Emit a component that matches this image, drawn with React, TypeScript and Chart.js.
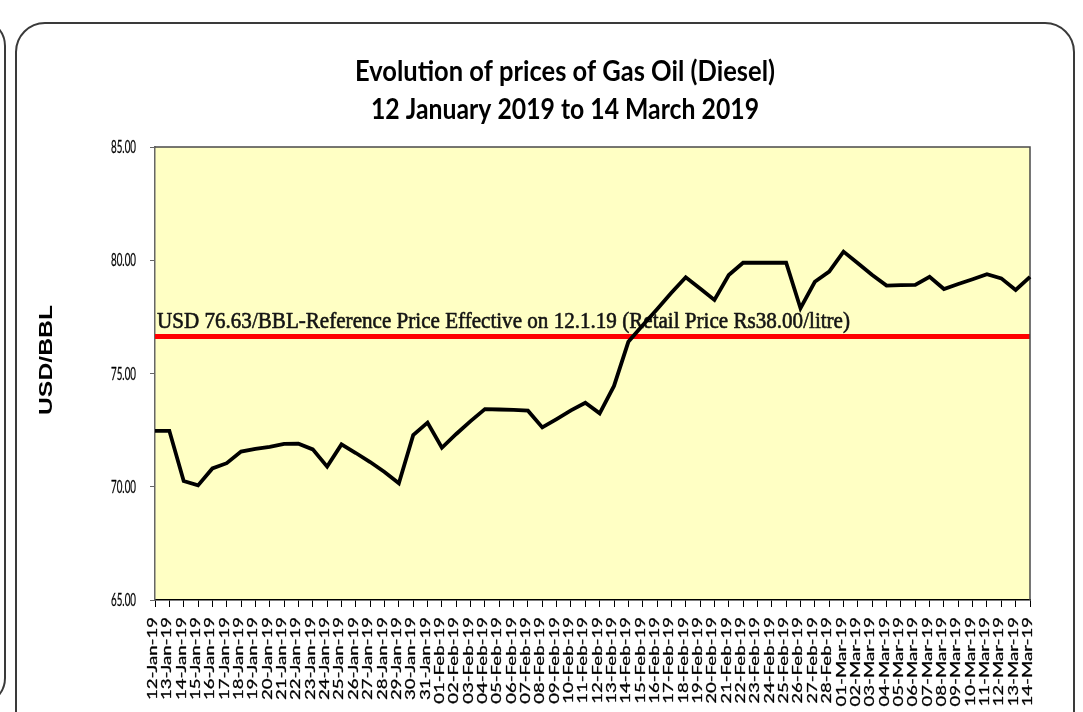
import { useEffect, useRef } from "react";
import { Chart, registerables } from "chart.js";

Chart.register(...registerables);

const DATES = [
  "12-Jan-19", "13-Jan-19", "14-Jan-19", "15-Jan-19", "16-Jan-19", "17-Jan-19", "18-Jan-19",
  "19-Jan-19", "20-Jan-19", "21-Jan-19", "22-Jan-19", "23-Jan-19", "24-Jan-19", "25-Jan-19",
  "26-Jan-19", "27-Jan-19", "28-Jan-19", "29-Jan-19", "30-Jan-19", "31-Jan-19",
  "01-Feb-19", "02-Feb-19", "03-Feb-19", "04-Feb-19", "05-Feb-19", "06-Feb-19", "07-Feb-19",
  "08-Feb-19", "09-Feb-19", "10-Feb-19", "11-Feb-19", "12-Feb-19", "13-Feb-19", "14-Feb-19",
  "15-Feb-19", "16-Feb-19", "17-Feb-19", "18-Feb-19", "19-Feb-19", "20-Feb-19", "21-Feb-19",
  "22-Feb-19", "23-Feb-19", "24-Feb-19", "25-Feb-19", "26-Feb-19", "27-Feb-19", "28-Feb-19",
  "01-Mar-19", "02-Mar-19", "03-Mar-19", "04-Mar-19", "05-Mar-19", "06-Mar-19", "07-Mar-19",
  "08-Mar-19", "09-Mar-19", "10-Mar-19", "11-Mar-19", "12-Mar-19", "13-Mar-19", "14-Mar-19",
];

const PRICES = [
  72.47, 72.47, 70.25, 70.06, 70.81, 71.04, 71.55, 71.67, 71.76, 71.89,
  71.9, 71.65, 70.89, 71.87, 71.49, 71.09, 70.65, 70.15, 72.28, 72.83,
  71.72, 72.33, 72.9, 73.43, 73.41, 73.39, 73.36, 72.62, 72.99, 73.37,
  73.71, 73.24, 74.45, 76.4, 77.13, 77.84, 78.56, 79.25, 78.75, 78.25,
  79.35, 79.89, 79.89, 79.89, 79.89, 77.88, 79.05, 79.5, 80.38, 79.87,
  79.35, 78.88, 78.9, 78.91, 79.27, 78.73, 78.95, 79.16, 79.38, 79.2,
  78.69, 79.27,
];

const Y_MIN = 65;
const Y_MAX = 85;
const Y_STEP = 5;
const REF_PRICE = 76.63;
const REF_LABEL =
  "USD 76.63/BBL-Reference Price Effective on 12.1.19 (Retail Price Rs38.00/litre)";
const TITLE_LINES = ["Evolution of prices of Gas Oil (Diesel)", "12 January 2019 to 14 March 2019"];
const Y_TITLE = "USD/BBL";

const PLOT_BG = "#FFFFC4";

function drawFitted(
  ctx: CanvasRenderingContext2D,
  text: string,
  x: number,
  y: number,
  font: string,
  fontPx: number,
  width: number | null,
  capH: number,
  align: CanvasTextAlign,
  capRatio: number,
  rotate = 0,
  color = "#000",
  sxFixed: number | null = null,
  strokeW = 0
) {
  ctx.save();
  ctx.font = font;
  const w = ctx.measureText(text).width;
  const sx = sxFixed != null ? sxFixed : width ? width / w : 1;
  const sy = capH / (capRatio * fontPx);
  ctx.translate(x, y);
  if (rotate) ctx.rotate(rotate);
  ctx.scale(sx, sy);
  ctx.textAlign = align;
  ctx.textBaseline = "alphabetic";
  ctx.fillStyle = color;
  ctx.fillText(text, 0, 0);
  if (strokeW > 0) {
    ctx.strokeStyle = color;
    ctx.lineWidth = strokeW;
    ctx.lineJoin = "round";
    ctx.strokeText(text, 0, 0);
  }
  ctx.restore();
}

const decorPlugin = {
  id: "decor",
  beforeDraw(chart: any) {
    const { ctx, chartArea } = chart;
    ctx.save();
    ctx.fillStyle = PLOT_BG;
    ctx.fillRect(chartArea.left, chartArea.top, chartArea.right - chartArea.left, chartArea.bottom - chartArea.top);
    ctx.restore();
  },
  beforeDatasetsDraw(chart: any) {
    const { ctx, chartArea, scales } = chart;
    const y = scales.y.getPixelForValue(REF_PRICE);
    ctx.save();
    ctx.strokeStyle = "#FF0000";
    ctx.lineWidth = 5;
    ctx.beginPath();
    ctx.moveTo(chartArea.left, y);
    ctx.lineTo(chartArea.right, y);
    ctx.stroke();
    ctx.restore();
    drawFitted(ctx, REF_LABEL, chartArea.left + 2, y - 9, "17px 'Liberation Serif'", 17, 693, 15.5, "left", 0.662, 0, "#141414", null, 0.45);
    ctx.save();
    ctx.strokeStyle = "#4a4a4a";
    ctx.lineWidth = 1.5;
    ctx.beginPath();
    ctx.moveTo(chartArea.left, chartArea.top);
    ctx.lineTo(chartArea.right, chartArea.top);
    ctx.lineTo(chartArea.right, chartArea.bottom);
    ctx.stroke();
    ctx.restore();
  },
  afterDraw(chart: any) {
    const { ctx, chartArea, scales } = chart;
    drawFitted(ctx, TITLE_LINES[0], 565, 81, "bold 22px Lato", 22, 420, 20, "center", 0.72);
    drawFitted(ctx, TITLE_LINES[1], 565, 119, "bold 22px Lato", 22, 388, 20, "center", 0.72);
    drawFitted(ctx, Y_TITLE, 52, 360, "bold 16px 'Liberation Sans'", 16, 110, 13, "center", 0.716, -Math.PI / 2);
    const ys = scales.y;
    ys.ticks.forEach((t: any) => {
      const py = ys.getPixelForValue(t.value);
      drawFitted(ctx, t.value.toFixed(2), 136, py + 6, "13px Lato", 13, 25, 12, "right", 0.72, 0, "#000", null, 0.2);
    });
    const xs = scales.x;
    ctx.save();
    ctx.font = "12px Lato";
    const sxLab = 83 / ctx.measureText(DATES[0]).width;
    ctx.restore();
    DATES.forEach((lab, i) => {
      const px = xs.getPixelForTick(i);
      drawFitted(ctx, lab, px + 2, chartArea.bottom + 17, "12px Lato", 12, null, 9, "right", 0.72, -Math.PI / 2, "#000", sxLab, 0.25);
    });
  },
};

function GasOilChart() {
  const ref = useRef<HTMLCanvasElement | null>(null);
  useEffect(() => {
    if (!ref.current) return;
    const chart = new Chart(ref.current, {
      type: "line",
      data: {
        labels: DATES,
        datasets: [
          {
            label: "Gas Oil (Diesel)",
            data: PRICES,
            borderColor: "#000000",
            borderWidth: 3.8,
            pointRadius: 0,
            tension: 0,
            fill: false,
          },
        ],
      },
      options: {
        animation: false,
        responsive: false,
        maintainAspectRatio: false,
        layout: { padding: { top: 147, left: 0, right: 53, bottom: 0 } },
        plugins: {
          legend: { display: false },
          tooltip: { enabled: false },
          title: { display: false },
        },
        scales: {
          x: {
            type: "category",
            offset: false,
            grid: { drawOnChartArea: false, drawTicks: true, tickLength: 7, color: "#000", lineWidth: 1 },
            border: { display: true, color: "#000", width: 1.5 },
            ticks: { display: false, autoSkip: false },
            afterFit: (s: any) => {
              s.height = 112;
            },
          },
          y: {
            min: Y_MIN,
            max: Y_MAX,
            ticks: { stepSize: Y_STEP, display: false },
            grid: { drawOnChartArea: false, drawTicks: true, tickLength: 5, color: "#666" },
            border: { display: true, color: "#666", width: 1.5 },
            afterFit: (s: any) => {
              s.width = 155;
            },
          },
        },
      },
      plugins: [decorPlugin],
    } as any);
    return () => chart.destroy();
  }, []);

  return (
    <canvas
      ref={ref}
      width={1083}
      height={712}
      style={{ position: "absolute", left: 0, top: 0, width: 1083, height: 712, display: "block" }}
    />
  );
}

export default function App() {
  return (
    <div
      style={{
        position: "fixed",
        left: 0,
        top: 0,
        width: 1083,
        height: 712,
        background: "#ffffff",
        overflow: "hidden",
      }}
    >
      <div
        style={{
          position: "absolute",
          left: -200,
          top: 18,
          width: 206,
          height: 688,
          border: "2px solid #3a3a3a",
          borderRadius: 28,
          boxSizing: "border-box",
        }}
      />
      <div
        style={{
          position: "absolute",
          left: 15,
          top: 22,
          width: 1060,
          height: 740,
          border: "2px solid #3a3a3a",
          borderRadius: 30,
          boxSizing: "border-box",
        }}
      />
      <GasOilChart />
    </div>
  );
}
